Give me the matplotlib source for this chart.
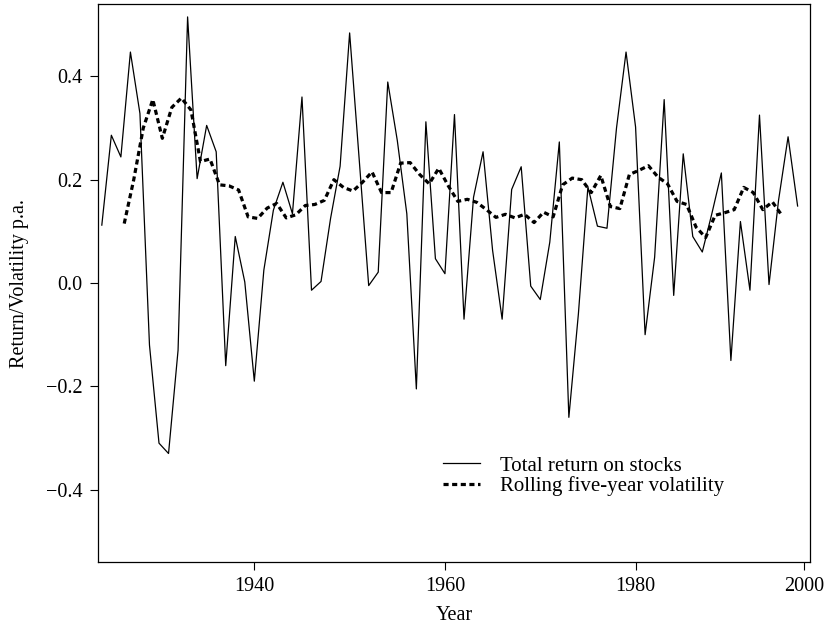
import matplotlib
matplotlib.use("Agg")
import matplotlib.pyplot as plt
import numpy as np

# yearly total return on stocks
years = np.arange(1924, 1998)
returns = [0.112, 0.286, 0.244, 0.447, 0.328, -0.12, -0.31, -0.33, -0.13, 0.515,
           0.202, 0.305, 0.254, -0.16, 0.09, 0.002, -0.19, 0.025, 0.141, 0.195,
           0.134, 0.36, -0.014, 0.003, 0.125, 0.226, 0.484, 0.24, -0.005, 0.021,
           0.389, 0.276, 0.134, -0.205, 0.312, 0.047, 0.018, 0.326, -0.07, 0.166,
           0.254, 0.063, -0.07, 0.181, 0.225, -0.006, -0.032, 0.079, 0.273, -0.26,
           -0.06, 0.186, 0.11, 0.106, 0.30, 0.447, 0.302, -0.10, 0.05, 0.355,
           -0.024, 0.25, 0.09, 0.06, 0.134, 0.213, -0.15, 0.119, -0.014, 0.325,
           -0.003, 0.16, 0.283, 0.149]

# rolling five-year volatility, drawn between the yearly points
vol_years = np.arange(1926, 1996) + 0.35
volatility = [0.115, 0.20, 0.30, 0.355, 0.28, 0.34, 0.358, 0.335, 0.235, 0.24,
              0.19, 0.188, 0.18, 0.128, 0.125, 0.145, 0.154, 0.126, 0.132, 0.15,
              0.152, 0.16, 0.20, 0.185, 0.178, 0.195, 0.215, 0.175, 0.175, 0.232,
              0.233, 0.21, 0.192, 0.222, 0.188, 0.158, 0.162, 0.156, 0.142, 0.127,
              0.133, 0.126, 0.133, 0.117, 0.137, 0.128, 0.19, 0.203, 0.20, 0.175,
              0.208, 0.148, 0.144, 0.21, 0.218, 0.227, 0.205, 0.192, 0.158, 0.152,
              0.108, 0.088, 0.131, 0.136, 0.142, 0.185, 0.175, 0.142, 0.157, 0.131]

# the last label sits at the right edge in the original
xtick_pos = [1940, 1960, 1980, 1997.7]
xtick_labels = ["1940", "1960", "1980", "2000"]
yticks = [-0.4, -0.2, 0.0, 0.2, 0.4]
ytick_labels = ["\u22120.4", "\u22120.2", "0.0", "0.2", "0.4"]

plt.rcParams["font.family"] = ["Liberation Serif", "DejaVu Serif"]
fs = 14.5

fig = plt.figure(figsize=(8.29, 6.34), dpi=100)
ax = fig.add_axes([98 / 829, 1 - 562 / 634, 712 / 829, 558 / 634])

ax.plot(years, returns, color="black", lw=0.9, label="Total return on stocks")
ax.plot(vol_years, volatility, color="black", lw=2.3, linestyle=(0, (1.6, 1.1)),
        label="Rolling five-year volatility")

ax.set_xlim(1923.6, 1998.3)
ax.set_ylim(-0.54, 0.54)
ax.set_xticks(xtick_pos)
ax.set_xticklabels(xtick_labels)
ax.set_yticks(yticks)
ax.set_yticklabels(ytick_labels)
ax.tick_params(direction="out", length=6, width=0.8, pad=5, labelsize=fs)
for s in ax.spines.values():
    s.set_linewidth(0.9)

ax.set_xlabel("Year", fontsize=fs, labelpad=7)
ax.set_ylabel("Return/Volatility p.a.", fontsize=fs, labelpad=12)

ax.legend(loc="upper left", bbox_to_anchor=(0.473, 0.205), frameon=False,
          handlelength=1.75, handletextpad=1.0, labelspacing=0.02, fontsize=15,
          borderaxespad=0)

fig.savefig("out.png", dpi=100)
